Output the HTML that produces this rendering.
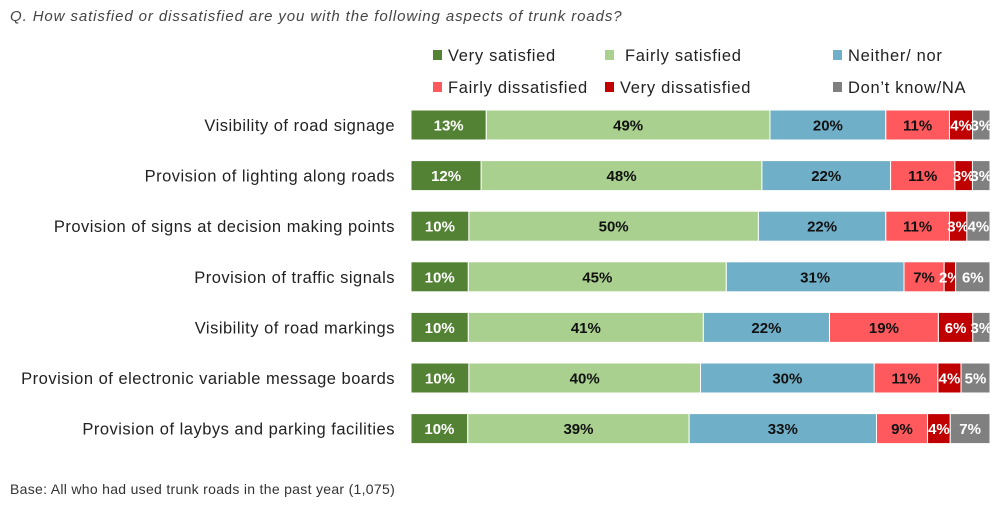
<!DOCTYPE html>
<html><head><meta charset="utf-8"><style>
body{margin:0;background:#fff;font-family:"Liberation Sans",sans-serif;}
#wrap{position:relative;width:1004px;height:507px;overflow:hidden;}
.t{position:absolute;white-space:nowrap;}
</style></head><body>
<div id="wrap">
<div class="t" style="left:10px;top:8px;font-size:15px;letter-spacing:0.9px;font-style:italic;color:#444;">Q. How satisfied or dissatisfied are you with the following aspects of trunk roads?</div>
<div class="t" style="left:10px;top:481px;font-size:14px;letter-spacing:0.3px;color:#333;">Base: All who had used trunk roads in the past year (1,075)</div>
<svg id="svg" width="1004" height="507" style="position:absolute;left:0;top:0"></svg>
</div>
<script>
const categories=["Visibility of road signage","Provision of lighting along roads","Provision of signs at decision making points","Provision of traffic signals","Visibility of road markings","Provision of electronic variable message boards","Provision of laybys and parking facilities"];
const seriesNames=["Very satisfied","Fairly satisfied","Neither/ nor","Fairly dissatisfied","Very dissatisfied","Don’t know/NA"];
const verySatisfied=[13,12,10,10,10,10,10];
const fairlySatisfied=[49,48,50,45,41,40,39];
const neither=[20,22,22,31,22,30,33];
const fairlyDissatisfied=[11,11,11,7,19,11,9];
const veryDissatisfied=[4,3,3,2,6,4,4];
const dontKnow=[3,3,4,6,3,5,7];
const colors=["#548235","#A9D08E","#70AFC8","#FF595E","#C00000","#808080"];
const textColors=["#fff","#111","#111","#111","#fff","#fff"];
const series=[verySatisfied,fairlySatisfied,neither,fairlyDissatisfied,veryDissatisfied,dontKnow];
const NS="http://www.w3.org/2000/svg";
const svg=document.getElementById('svg');
const x0=411,x1=990,y0=125,step=50.6,bh=30;
function yPos(i){return y0+i*step;}
function mk(t,a){const e=document.createElementNS(NS,t);for(const k in a)e.setAttribute(k,a[k]);svg.appendChild(e);return e;}
const keys=["very-satisfied","fairly-satisfied","neither","fairly-dissatisfied","very-dissatisfied","dont-know"];
const lx=[433,605,833],ly=[55,87];
seriesNames.forEach((n,j)=>{
  const cx=lx[j%3],cy=ly[Math.floor(j/3)];
  const r=mk('rect',{x:cx,y:cy-5,width:9,height:10,fill:colors[j]});
  
  
  const t=mk('text',{x:cx+15+(j===1?5:0),y:cy+6,'font-size':16.5,'letter-spacing':0.7,fill:'#222'});
  t.textContent=n;
  
  
});
categories.forEach((c,i)=>{
  const yc=yPos(i);
  const lab=mk('text',{x:395,y:yc+6,'font-size':16.5,'letter-spacing':0.5,fill:'#222','text-anchor':'end'});
  lab.textContent=c;
  
  
  let tot=0;series.forEach(s=>tot+=s[i]);
  let acc=0;
  series.forEach((s,j)=>{
    const xa=x0+(x1-x0)*acc/tot;acc+=s[i];
    const xb=x0+(x1-x0)*acc/tot;
    const r=mk('rect',{x:xa,y:yc-bh/2,width:Math.max(0,xb-xa),height:bh,fill:colors[j],stroke:'#fff','stroke-width':1});
    
    
    const t=mk('text',{x:(xa+xb)/2,y:yc+5.5,'font-size':15,'font-weight':'bold',fill:textColors[j],'text-anchor':'middle'});
    t.textContent=s[i]+'%';
    
    
  });
});
</script>
</body></html>
